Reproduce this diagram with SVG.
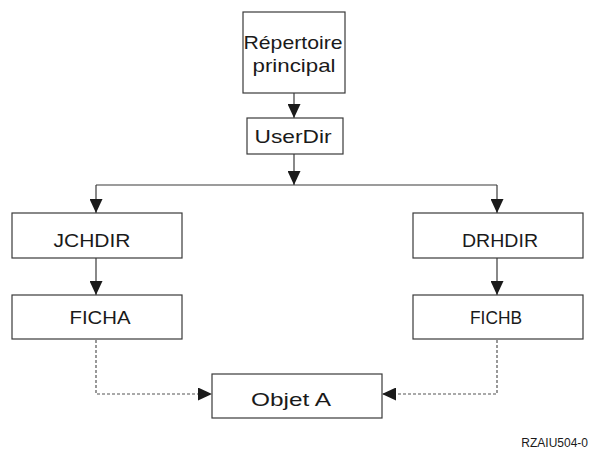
<svg xmlns="http://www.w3.org/2000/svg" width="591" height="454" viewBox="0 0 591 454">
  <style>
    .box { fill: #ffffff; stroke: #3a3a3a; stroke-width: 1.2; }
    .lbl { font-family: "Liberation Sans", Arial, sans-serif; font-size: 19px; fill: #1a1a1a; text-anchor: middle; }
    .line { fill: none; stroke: #3a3a3a; stroke-width: 1.2; }
    .dash { fill: none; stroke: #555555; stroke-width: 1.2; stroke-dasharray: 3 2; }
    .code { font-family: "Liberation Sans", Arial, sans-serif; font-size: 12px; fill: #1a1a1a; text-anchor: end; }
  </style>
  <defs>
    <marker id="arrow" markerUnits="userSpaceOnUse" markerWidth="14" markerHeight="13" refX="14" refY="6.5" orient="auto">
      <path d="M0,0 L14,6.5 L0,13 z" fill="#1a1a1a"/>
    </marker>
  </defs>

  <rect width="591" height="454" fill="#ffffff"/>

  <!-- connectors -->
  <g id="connectors">
    <path class="line" d="M294,93 V118" marker-end="url(#arrow)"/>
    <path class="line" d="M294,154 V185" marker-end="url(#arrow)"/>
    <path class="line" d="M96,185 H497"/>
    <path class="line" d="M96,185 V213" marker-end="url(#arrow)"/>
    <path class="line" d="M497,185 V213" marker-end="url(#arrow)"/>
    <path class="line" d="M96,258 V295" marker-end="url(#arrow)"/>
    <path class="line" d="M497,258 V295" marker-end="url(#arrow)"/>
    <path class="dash" d="M96,340 V394 H212" marker-end="url(#arrow)"/>
    <path class="dash" d="M497,340 V394 H382" marker-end="url(#arrow)"/>
  </g>

  <!-- nodes -->
  <g id="root">
    <rect class="box" x="243" y="12" width="102" height="81"/>
    <text class="lbl" x="293" y="49" font-size="21" textLength="99" lengthAdjust="spacingAndGlyphs">Répertoire</text>
    <text class="lbl" x="294" y="72" font-size="21" textLength="83" lengthAdjust="spacingAndGlyphs">principal</text>
  </g>
  <g id="userdir">
    <rect class="box" x="247" y="118" width="96" height="36"/>
    <text class="lbl" x="293" y="143" font-size="20" textLength="77" lengthAdjust="spacingAndGlyphs">UserDir</text>
  </g>
  <g id="jchdir">
    <rect class="box" x="12" y="213" width="170" height="45"/>
    <text class="lbl" x="92" y="247" textLength="77" lengthAdjust="spacingAndGlyphs">JCHDIR</text>
  </g>
  <g id="drhdir">
    <rect class="box" x="413" y="213" width="170" height="45"/>
    <text class="lbl" x="500" y="247" textLength="76" lengthAdjust="spacingAndGlyphs">DRHDIR</text>
  </g>
  <g id="ficha">
    <rect class="box" x="12" y="295" width="170" height="44"/>
    <text class="lbl" x="100" y="324" textLength="61" lengthAdjust="spacingAndGlyphs">FICHA</text>
  </g>
  <g id="fichb">
    <rect class="box" x="413" y="295" width="170" height="44"/>
    <text class="lbl" x="496" y="324" textLength="52" lengthAdjust="spacingAndGlyphs">FICHB</text>
  </g>
  <g id="objet-a">
    <rect class="box" x="212" y="374" width="170" height="44"/>
    <text class="lbl" x="291" y="406" font-size="20" textLength="80" lengthAdjust="spacingAndGlyphs">Objet A</text>
  </g>

  <text class="code" x="588" y="447">RZAIU504-0</text>
</svg>
